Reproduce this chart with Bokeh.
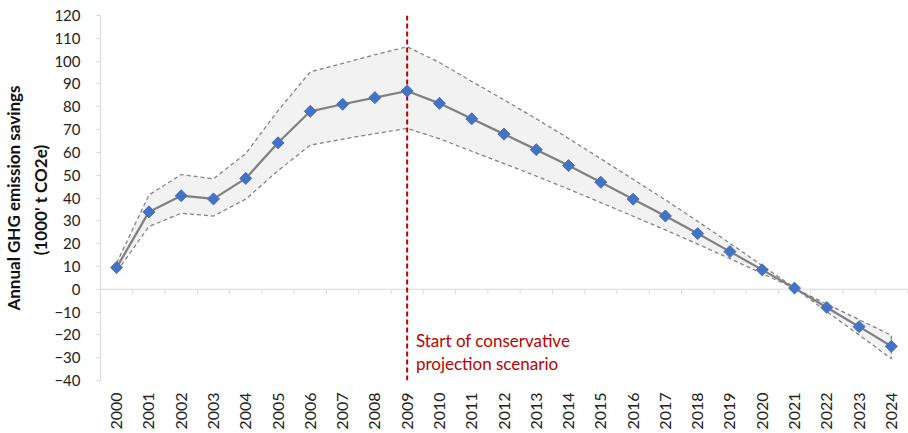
import math
from bokeh.plotting import figure
from bokeh.models import ColumnDataSource, Range1d, FixedTicker, Label, Span
from bokeh.embed import file_html
from bokeh.resources import INLINE

years = [str(y) for y in range(2000, 2025)]
savings = [9.5, 33.9, 41.0, 39.6, 48.6, 64.2, 78.0, 81.1, 84.0, 86.9,
           81.5, 74.7, 68.0, 61.2, 54.2, 46.9, 39.5, 32.1, 24.4, 16.5,
           8.5, 0.5, -8.0, -16.4, -25.0]
upper = [11.5, 41.3, 50.3, 48.4, 59.5, 78.3, 95.3, 99.0, 102.8, 106.3,
         99.4, 91.1, 83.0, 74.7, 66.1, 57.2, 48.2, 39.2, 29.8, 20.1,
         10.4, 0.6, -9.8, -20.0, -30.5]
lower = [7.7, 27.5, 33.3, 32.1, 39.5, 52.0, 63.2, 65.8, 68.2, 70.5,
         66.0, 60.5, 55.1, 49.6, 43.9, 38.0, 32.0, 26.0, 19.8, 13.4,
         6.9, 0.4, -6.5, -13.3, -20.2]
y_ticks = list(range(-40, 121, 10))
projection_start = "2009"
annotation_text = "Start of conservative\nprojection scenario"
y_title = "Annual GHG emission savings\n(1000' t  CO2e)"

FONT = "Lato"
ymin, ymax = y_ticks[0], y_ticks[-1]
idx = list(range(len(years)))

p = figure(width=908, height=432, output_backend="svg", toolbar_location=None,
           x_range=Range1d(-0.5, len(years) - 0.5), y_range=Range1d(ymin, ymax),
           min_border_left=99, min_border_right=1, min_border_top=15, min_border_bottom=51)
p.outline_line_color = None
p.background_fill_color = "white"
p.border_fill_color = "white"

# grid: only top and bottom lines
p.xgrid.visible = False
p.ygrid.ticker = FixedTicker(ticks=[ymin, ymax])
p.ygrid.grid_line_color = "#D9D9D9"
p.ygrid.grid_line_width = 1

# y axis
ya = p.yaxis[0]
ya.ticker = FixedTicker(ticks=y_ticks)
ya.axis_line_color = "#D9D9D9"
ya.major_tick_line_color = "#D9D9D9"
ya.major_tick_out = 4
ya.major_tick_in = 0
ya.minor_tick_line_color = None
ya.major_label_standoff = 16
ya.major_label_text_font = FONT
ya.major_label_text_font_size = "15px"
ya.major_label_text_color = "#222222"
ya.axis_label = y_title
ya.axis_label_text_font = FONT
ya.axis_label_text_font_size = "17px"
ya.axis_label_text_font_style = "bold"
ya.axis_label_text_color = "#111111"
ya.axis_label_text_line_height = 1.3
ya.axis_label_standoff = 0

# x axis: labels only
xa = p.xaxis[0]
xa.ticker = FixedTicker(ticks=idx)
xa.major_label_overrides = {i: y for i, y in enumerate(years)}
xa.axis_line_color = None
xa.major_tick_line_color = None
xa.major_tick_out = 0
xa.major_tick_in = 0
xa.minor_tick_line_color = None
xa.major_label_orientation = math.pi / 2
xa.major_label_standoff = 12
xa.major_label_text_font = FONT
xa.major_label_text_font_size = "16px"
xa.major_label_text_color = "#222222"

# zero line with category boundary ticks
p.add_layout(Span(location=0, dimension="width", line_color="#D9D9D9", line_width=1, level="underlay"))
bounds = [i - 0.5 for i in range(len(years) + 1)]
tick_len = 5 * (ymax - ymin) / 366.0
p.segment(x0=bounds, x1=bounds, y0=[0] * len(bounds), y1=[-tick_len] * len(bounds),
          line_color="#D9D9D9", line_width=1, level="underlay")

# uncertainty band
px = idx + idx[::-1]
py = upper + lower[::-1]
p.patch(px, py, fill_color="#F2F2F2", line_color="#808080", line_width=1.25, line_dash="4 3")

# projection start line
ps = years.index(projection_start)
p.segment(x0=[ps], x1=[ps], y0=[ymin], y1=[ymax], line_color="#C00000", line_width=2, line_dash="5 3")

# main series
src = ColumnDataSource(dict(x=idx, y=savings))
p.line("x", "y", source=src, line_color="#808080", line_width=2.25)
p.scatter("x", "y", source=src, marker="square", angle=math.pi / 4, size=8.5,
          fill_color="#4472C4", line_color="#4472C4")

p.add_layout(Label(x=ps + 0.27, y=-18.0, text=annotation_text, text_baseline="top",
                   text_font=FONT, text_font_size="17px", text_color="#C00000",
                   text_line_height=1.08))

open("out.html", "w").write(file_html(p, INLINE))
